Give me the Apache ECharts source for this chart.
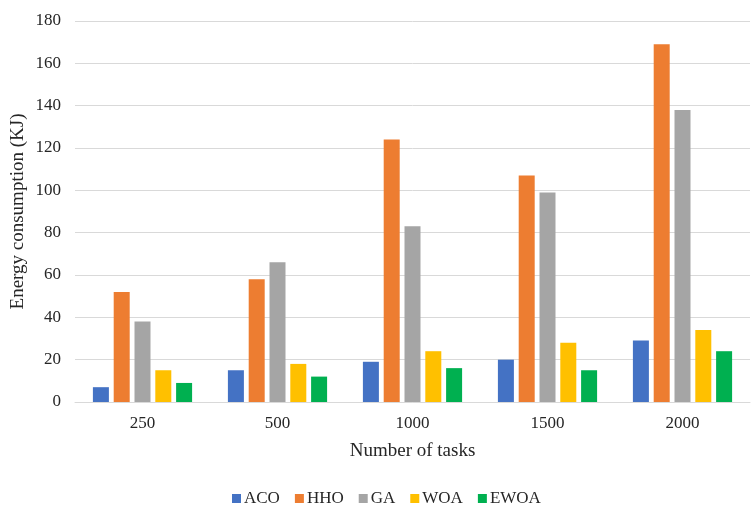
<!DOCTYPE html>
<html>
<head>
<meta charset="utf-8">
<script src="https://cdn.jsdelivr.net/npm/echarts@6/dist/echarts.min.js"></script>
<style>
  html, body { margin: 0; padding: 0; background: #fff; }
  #chart { width: 756px; height: 507px; }
</style>
</head>
<body>
<div id="chart"></div>
<script>
// Energy consumption per algorithm for each task count
const taskCounts = ['250', '500', '1000', '1500', '2000'];
const aco  = [7, 15, 19, 20, 29];
const hho  = [52, 58, 124, 107, 169];
const ga   = [38, 66, 83, 99, 138];
const woa  = [15, 18, 24, 28, 34];
const ewoa = [9, 12, 16, 15, 24];

const seriesNames = ['ACO', 'HHO', 'GA', 'WOA', 'EWOA'];
const seriesData = [aco, hho, ga, woa, ewoa];
const seriesColors = ['#4472C4', '#ED7D31', '#A5A5A5', '#FFC000', '#00B050'];

const font = 'Liberation Serif, Times New Roman, serif';
const textColor = '#262626';

const chart = echarts.init(document.getElementById('chart'));
chart.setOption({
  animation: false,
  textStyle: { fontFamily: font },
  grid: {
    left: 75, right: 6, top: 21, bottom: 105,
    containLabel: false,
    outerBoundsMode: 'none'
  },
  legend: {
    top: 485,
    left: 227,
    itemWidth: 9,
    itemHeight: 9,
    itemGap: 15,
    icon: 'rect',
    textStyle: { fontFamily: font, fontSize: 17, color: textColor, padding: [0, 0, 0, -2] },
    data: seriesNames
  },
  xAxis: {
    type: 'category',
    data: taskCounts,
    name: 'Number of tasks',
    nameLocation: 'middle',
    nameGap: 40,
    nameMoveOverlap: false,
    nameTextStyle: { fontFamily: font, fontSize: 19, color: textColor },
    axisLine: { lineStyle: { color: '#d9d9d9', width: 1 } },
    axisTick: { show: false },
    axisLabel: { fontFamily: font, fontSize: 17, color: textColor, margin: 13 }
  },
  yAxis: {
    type: 'value',
    min: 0,
    max: 180,
    interval: 20,
    name: 'Energy consumption (KJ)',
    nameLocation: 'middle',
    nameGap: 47,
    nameMoveOverlap: false,
    nameTextStyle: { fontFamily: font, fontSize: 19, color: textColor },
    axisLine: { show: false },
    axisTick: { show: false },
    axisLabel: { fontFamily: font, fontSize: 17, color: textColor, margin: 14 },
    splitLine: { lineStyle: { color: '#d9d9d9', width: 1 } }
  },
  series: seriesNames.map((name, i) => ({
    name: name,
    type: 'bar',
    data: seriesData[i],
    barWidth: 16,
    barGap: '30%',
    itemStyle: { color: seriesColors[i] }
  }))
});
</script>
</body>
</html>
